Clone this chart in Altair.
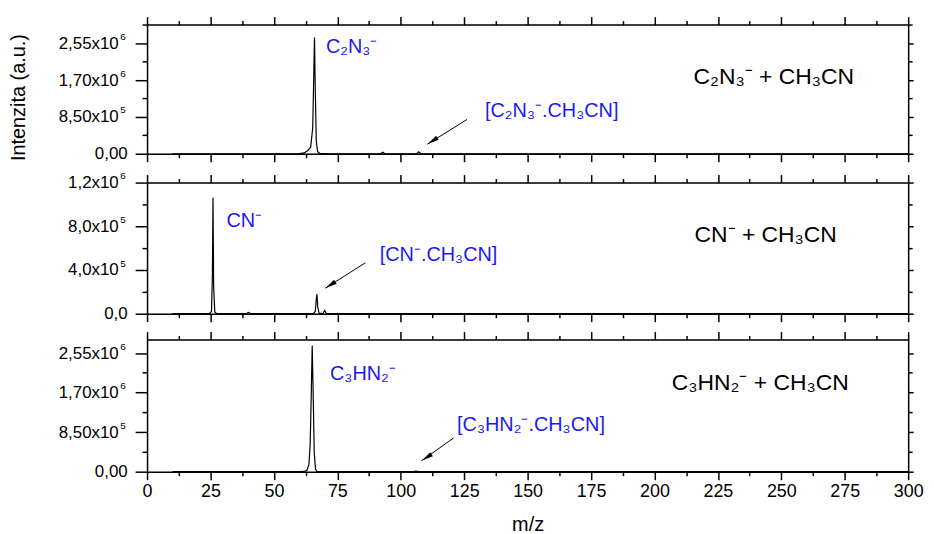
import altair as alt
import pandas as pd

# ---------------- data ----------------
X_DOMAIN = [0, 300]
X_MAJOR = [0, 25, 50, 75, 100, 125, 150, 175, 200, 225, 250, 275, 300]
X_MINOR = [12.5, 37.5, 62.5, 87.5, 112.5, 137.5, 162.5, 187.5, 212.5, 237.5, 262.5, 287.5]

# panel 1: C2N3- + CH3CN
c2n3_mz = [10, 55, 60, 62, 63.5, 64.5, 65.3, 65.7, 66.0, 66.3, 66.7, 67.2, 68, 72,
           90, 92.2, 92.9, 93.6, 95, 105, 106.4, 107.1, 107.8, 109, 300]
c2n3_int = [0, 0, 3e3, 2e4, 8e4, 1.5e5, 6e5, 1.8e6, 2.68e6, 1.5e6, 3e5, 5e4, 1e4, 0,
            0, 4e3, 3.5e4, 4e3, 0, 0, 6e3, 4.5e4, 6e3, 0, 0]
c2n3_ydom = [0, 2.98e6]
c2n3_major = [0, 850000, 1700000, 2550000]
c2n3_major_lab = ["0,00", "8,50x10", "1,70x10", "2,55x10"]
c2n3_exp = ["", "5", "6", "6"]
c2n3_minor = [425000, 1275000, 2125000, 2975000]
c2n3_lab_t = ["C\u2082N\u2083\u207b", "[C\u2082N\u2083\u207b.CH\u2083CN]"]
c2n3_lab_x = [70.5, 133.2]
c2n3_lab_y = [2.47e6, 0.98e6]
c2n3_right_t = ["C\u2082N\u2083\u207b + CH\u2083CN"]
c2n3_right_x = [215.4]
c2n3_right_y = [1.78e6]
c2n3_arrow = dict(x=[126.1], y=[0.79e6], x2=[110.5], y2=[0.22e6])

# panel 2: CN- + CH3CN
cn_mz = [10, 24.5, 25.4, 25.75, 26.0, 26.25, 26.7, 27.5, 39, 40, 41,
         65.5, 66.3, 66.7, 66.95, 67.3, 67.8, 69.3, 70.0, 70.7, 300]
cn_int = [0, 0, 2e4, 3.5e5, 1.06e6, 2.5e5, 1.5e4, 0, 0, 1.2e4, 0,
          0, 2e4, 1.3e5, 1.8e5, 6e4, 5e3, 0, 3e4, 0, 0]
cn_ydom = [0, 1.2e6]
cn_major = [0, 400000, 800000, 1200000]
cn_major_lab = ["0,0", "4,0x10", "8,0x10", "1,2x10"]
cn_exp = ["", "5", "5", "6"]
cn_minor = [200000, 600000, 1000000]
cn_lab_t = ["CN\u207b", "[CN\u207b.CH\u2083CN]"]
cn_lab_x = [31.3, 91.7]
cn_lab_y = [0.847e6, 0.538e6]
cn_right_t = ["CN\u207b + CH\u2083CN"]
cn_right_x = [215.8]
cn_right_y = [0.72e6]
cn_arrow = dict(x=[86.0], y=[0.465e6], x2=[70.3], y2=[0.234e6])

# panel 3: C3HN2- + CH3CN
c3_mz = [10, 60, 62, 63, 63.8, 64.3, 64.7, 65.1, 65.5, 65.9, 66.4, 67, 68,
         105, 106, 107, 300]
c3_int = [0, 0, 5e3, 3e4, 1.5e5, 6e5, 1.6e6, 2.71e6, 1.6e6, 4e5, 5e4, 5e3, 0,
          0, 1.2e4, 0, 0]
c3_ydom = [0, 2.84e6]
c3_major = [0, 850000, 1700000, 2550000]
c3_major_lab = ["0,00", "8,50x10", "1,70x10", "2,55x10"]
c3_exp = ["", "5", "6", "6"]
c3_minor = [425000, 1275000, 2125000]
c3_lab_t = ["C\u2083HN\u2082\u207b", "[C\u2083HN\u2082\u207b.CH\u2083CN]"]
c3_lab_x = [72.1, 122.2]
c3_lab_y = [2.09e6, 1.0e6]
c3_right_t = ["C\u2083HN\u2082\u207b + CH\u2083CN"]
c3_right_x = [206.8]
c3_right_y = [1.90e6]
c3_arrow = dict(x=[120.9], y=[0.727e6], x2=[108.2], y2=[0.235e6])

# ---------------- styling ----------------
FONT = "Liberation Sans"
XFONT = "Liberation Sans Narrow, Liberation Sans"
BLUE = "#1a1af5"
W = 766
ARROW_HEAD = "M0,0L0.4,2L-0.4,2Z"


def label_expr(values, labels):
    parts = "".join(f"datum.value == {v} ? '{l}' : " for v, l in zip(values, labels))
    return parts + "''"


AX = dict(grid=False, domainColor="black", tickColor="black", domainWidth=1.5,
          tickWidth=1.5, labelColor="black")


def panel(mz, inten, ydom, ymaj, ylab, yexp, ymin, lab_t, lab_x, lab_y,
          r_t, r_x, r_y, arrow, h, bottom=False, ytitle=None):
    df = pd.DataFrame({"mz": mz, "I": inten})
    xs = alt.Scale(domain=X_DOMAIN, nice=False, zero=False)
    ys = alt.Scale(domain=ydom, nice=False, zero=False)
    base = alt.Chart(df)

    def xe(axis, field="mz"):
        return alt.X(f"{field}:Q", scale=xs, axis=axis, title=None)

    def ye(axis, field="I"):
        return alt.Y(f"{field}:Q", scale=ys, axis=axis, title=None)

    if bottom:
        xbm = alt.Axis(orient="bottom", values=X_MAJOR, tickSize=8, labels=True,
                       labelFont=XFONT, labelFontSize=18, labelPadding=3,
                       labelFlush=False, title="m/z", titleFont=XFONT,
                       titleFontSize=20, titleFontWeight="normal",
                       titlePadding=14, titleColor="black", **AX)
        xchan = alt.X("mz:Q", scale=xs, axis=xbm)
    else:
        xbm = alt.Axis(orient="bottom", values=X_MAJOR, tickSize=8, labels=False, **AX)
        xchan = xe(xbm)

    if ytitle:
        ylm = alt.Axis(orient="left", values=ymaj, tickSize=12, labels=False,
                       title=ytitle, titleFont=FONT, titleFontSize=20,
                       titleFontWeight="normal", titleColor="black",
                       titleX=-129, titleY=73, titleAngle=270,
                       titleBaseline="middle", titleAlign="center", **AX)
        ychan = alt.Y("I:Q", scale=ys, axis=ylm)
    else:
        ylm = alt.Axis(orient="left", values=ymaj, tickSize=12, labels=False, **AX)
        ychan = ye(ylm)

    line = base.mark_line(color="black", strokeWidth=1.2).encode(x=xchan, y=ychan)

    ghost = dict(color="black", strokeOpacity=0)
    l_minor = base.mark_line(**ghost).encode(
        x=xe(alt.Axis(orient="bottom", values=X_MINOR, tickSize=4, labels=False, domain=False, **AX)),
        y=ye(alt.Axis(orient="left", values=ymin, tickSize=5, labels=False, domain=False, **AX)),
    )
    l_top = base.mark_line(**ghost).encode(
        x=xe(alt.Axis(orient="top", values=X_MAJOR, tickSize=8, labels=False, **AX)),
        y=ye(alt.Axis(orient="right", values=ymaj, tickSize=5, labels=False, **AX)),
    )
    l_top_minor = base.mark_line(**ghost).encode(
        x=xe(alt.Axis(orient="top", values=X_MINOR, tickSize=4, labels=False, domain=False, **AX)),
        y=ye(alt.Axis(orient="right", values=ymin, tickSize=4, labels=False, domain=False, **AX)),
    )
    zero_v = [v for v in ymaj if v == 0]
    zero_l = [l for v, l in zip(ymaj, ylab) if v == 0]
    nz_v = [v for v in ymaj if v != 0]
    nz_l = [l for v, l in zip(ymaj, ylab) if v != 0]
    nz_e = [e for v, e in zip(ymaj, yexp) if v != 0]
    lab_common = dict(grid=False, ticks=False, domain=False, labelFont=FONT,
                      labelColor="black", labelOverlap=False, labelBaseline="middle")
    l_lab0 = base.mark_line(**ghost).encode(
        x=xe(None),
        y=ye(alt.Axis(orient="left", values=zero_v, labelExpr=label_expr(zero_v, zero_l),
                      labelPadding=20, labelFontSize=17, **lab_common)),
    )
    l_lab = base.mark_line(**ghost).encode(
        x=xe(None),
        y=ye(alt.Axis(orient="left", values=nz_v, labelExpr=label_expr(nz_v, nz_l),
                      labelPadding=29, labelFontSize=17, **lab_common)),
    )
    l_exp = base.mark_line(**ghost).encode(
        x=xe(None),
        y=ye(alt.Axis(orient="left", values=nz_v, labelExpr=label_expr(nz_v, nz_e),
                      labelPadding=22, labelFontSize=10, labelOffset=-7, **lab_common)),
    )

    ann = alt.Chart(pd.DataFrame({"x": lab_x, "y": lab_y, "t": lab_t})).mark_text(
        font=FONT, fontSize=20, color=BLUE, align="left", baseline="middle"
    ).encode(x=xe(None, "x"), y=ye(None, "y"), text="t:N")
    right = alt.Chart(pd.DataFrame({"x": r_x, "y": r_y, "t": r_t})).mark_text(
        font=FONT, fontSize=23, color="black", align="left", baseline="middle"
    ).encode(x=xe(None, "x"), y=ye(None, "y"), text="t:N")
    adf = pd.DataFrame(arrow)
    arr_line = alt.Chart(adf).mark_rule(color="black", strokeWidth=1).encode(
        x=xe(None, "x"), y=ye(None, "y"), x2="x2:Q", y2="y2:Q")
    arr_head = alt.Chart(adf).mark_point(
        shape=ARROW_HEAD, filled=True, size=144, angle=237, color="black", opacity=1
    ).encode(x=xe(None, "x2"), y=ye(None, "y2"))

    return alt.layer(line, l_minor, l_top, l_top_minor, l_lab0, l_lab, l_exp,
                     ann, right, arr_line, arr_head).resolve_axis(
        x="independent", y="independent").properties(width=W, height=h)


p1 = panel(c2n3_mz, c2n3_int, c2n3_ydom, c2n3_major, c2n3_major_lab, c2n3_exp, c2n3_minor,
           c2n3_lab_t, c2n3_lab_x, c2n3_lab_y, c2n3_right_t, c2n3_right_x, c2n3_right_y,
           c2n3_arrow, 130, ytitle="Intenzita (a.u.)")
p2 = panel(cn_mz, cn_int, cn_ydom, cn_major, cn_major_lab, cn_exp, cn_minor,
           cn_lab_t, cn_lab_x, cn_lab_y, cn_right_t, cn_right_x, cn_right_y,
           cn_arrow, 132)
p3 = panel(c3_mz, c3_int, c3_ydom, c3_major, c3_major_lab, c3_exp, c3_minor,
           c3_lab_t, c3_lab_x, c3_lab_y, c3_right_t, c3_right_x, c3_right_y,
           c3_arrow, 133, bottom=True)

chart = alt.vconcat(p1, p2, p3, spacing=6, bounds="full").properties(
    padding={"left": 8, "top": 13, "right": 10, "bottom": 0}
).configure_view(stroke="black", strokeWidth=1.5).configure(background="white")

chart.save("out.html", embed_options={"renderer": "svg", "actions": False})
